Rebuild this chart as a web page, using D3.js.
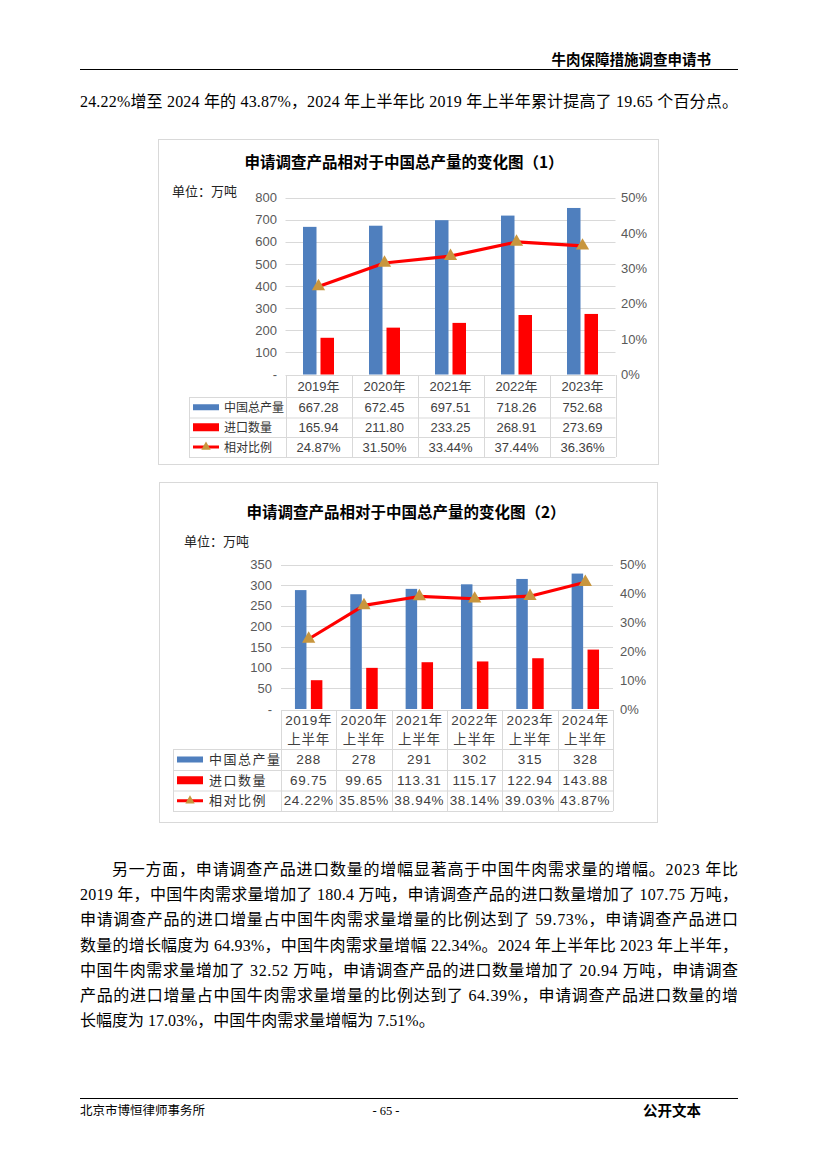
<!DOCTYPE html>
<html><head><meta charset="utf-8">
<script src="https://cdn.jsdelivr.net/npm/d3@7"></script>
<style>
html,body{margin:0;padding:0;background:#fff;}
svg{display:block;}
</style></head><body>
<svg id="page" width="827" height="1170"></svg>
<script>
// ---------- DATA ----------
const categories1 = ["2019年", "2020年", "2021年", "2022年", "2023年"];
const total1 = [667.28, 672.45, 697.51, 718.26, 752.68];
const import1 = [165.94, 211.80, 233.25, 268.91, 273.69];
const ratio1 = [24.87, 31.50, 33.44, 37.44, 36.36];
const leftTicks1 = [0, 100, 200, 300, 400, 500, 600, 700, 800];
const rightTicks1 = [0, 10, 20, 30, 40, 50];

const categories2 = ["2019年上半年", "2020年上半年", "2021年上半年", "2022年上半年", "2023年上半年", "2024年上半年"];
const total2 = [288, 278, 291, 302, 315, 328];
const import2 = [69.75, 99.65, 113.31, 115.17, 122.94, 143.88];
const ratio2 = [24.22, 35.85, 38.94, 38.14, 39.03, 43.87];
const leftTicks2 = [0, 50, 100, 150, 200, 250, 300, 350];
const rightTicks2 = [0, 10, 20, 30, 40, 50];

const seriesNames = ["中国总产量", "进口数量", "相对比例"];
const chartTitles = ["申请调查产品相对于中国总产量的变化图（1）", "申请调查产品相对于中国总产量的变化图（2）"];
const unitLabel = "单位：万吨";

const headerTitle = "牛肉保障措施调查申请书";
const introLine = "24.22%增至 2024 年的 43.87%，2024 年上半年比 2019 年上半年累计提高了 19.65 个百分点。";
const paragraphLines = [
  "另一方面，申请调查产品进口数量的增幅显著高于中国牛肉需求量的增幅。2023 年比",
  "2019 年，中国牛肉需求量增加了 180.4 万吨，申请调查产品的进口数量增加了 107.75 万吨，",
  "申请调查产品的进口增量占中国牛肉需求量增量的比例达到了 59.73%，申请调查产品进口",
  "数量的增长幅度为 64.93%，中国牛肉需求量增幅 22.34%。2024 年上半年比 2023 年上半年，",
  "中国牛肉需求量增加了 32.52 万吨，申请调查产品的进口数量增加了 20.94 万吨，申请调查",
  "产品的进口增量占中国牛肉需求量增量的比例达到了 64.39%，申请调查产品进口数量的增",
  "长幅度为 17.03%，中国牛肉需求量增幅为 7.51%。"
];
const footerLeft = "北京市博恒律师事务所";
const footerPage = "- 65 -";
const footerRight = "公开文本";

// ---------- STYLE ----------
const BLUE = "#4F7FBE", RED = "#FF0000", MARK = "#C8963E", GRID = "#D9D9D9";
const SERIF = "'Liberation Serif','Noto Sans CJK SC',serif";
const SANS = "'Liberation Sans','Noto Sans CJK SC',sans-serif";
const CJK = "'Noto Sans CJK SC',sans-serif";

const svg = d3.select("#page");

// ---------- PAGE TEXT ----------
svg.append("text").attr("x", 711).attr("y", 65).attr("text-anchor", "end")
  .attr("font-family", CJK).attr("font-weight", 700).attr("font-size", 14.5).attr("fill", "#000")
  .text(headerTitle);
svg.append("line").attr("x1", 80).attr("x2", 738).attr("y1", 69.5).attr("y2", 69.5)
  .attr("stroke", "#000").attr("stroke-width", 1.2);

svg.append("text").attr("x", 80).attr("y", 107)
  .attr("font-family", SERIF).attr("font-size", 16).attr("fill", "#000")
  .attr("textLength", 658).attr("lengthAdjust", "spacing")
  .text(introLine);

paragraphLines.forEach((t, i) => {
  const x0 = i === 0 ? 112 : 80;
  const txt = svg.append("text").attr("x", x0).attr("y", 875 + i * 25.2)
    .attr("font-family", SERIF).attr("font-size", 16).attr("fill", "#000").text(t);
  if (i < paragraphLines.length - 1) txt.attr("textLength", 738 - x0).attr("lengthAdjust", "spacing");
});

svg.append("line").attr("x1", 80).attr("x2", 738).attr("y1", 1098.5).attr("y2", 1098.5)
  .attr("stroke", "#000").attr("stroke-width", 1);
svg.append("text").attr("x", 80).attr("y", 1115)
  .attr("font-family", SERIF).attr("font-size", 12.5).attr("fill", "#000").text(footerLeft);
svg.append("text").attr("x", 386).attr("y", 1115).attr("text-anchor", "middle")
  .attr("font-family", SERIF).attr("font-size", 12.5).attr("fill", "#000").text(footerPage);
svg.append("text").attr("x", 701).attr("y", 1116).attr("text-anchor", "end")
  .attr("font-family", CJK).attr("font-weight", 700).attr("font-size", 14.5).attr("fill", "#000").text(footerRight);

// ---------- CHART ----------
function drawChart(cfg) {
  const g = svg.append("g");
  g.append("rect").attr("x", cfg.frame[0] + 0.5).attr("y", cfg.frame[1] + 0.5)
    .attr("width", cfg.frame[2] - cfg.frame[0]).attr("height", cfg.frame[3] - cfg.frame[1])
    .attr("fill", "#fff").attr("stroke", GRID).attr("stroke-width", 1);
  g.append("text").attr("x", cfg.titleX).attr("y", cfg.titleY).attr("text-anchor", "middle")
    .attr("font-family", CJK).attr("font-weight", 700).attr("font-size", 15.5).attr("fill", "#000")
    .text(cfg.title);
  g.append("text").attr("x", cfg.unitX).attr("y", cfg.unitY)
    .attr("font-family", CJK).attr("font-size", 13).attr("fill", "#222").text(unitLabel);

  const x = d3.scaleBand().domain(cfg.cats).range([cfg.left, cfg.right]).padding(0);
  const inner = d3.scaleBand().domain(["total", "import"]).range([0, x.bandwidth()])
    .paddingInner(cfg.padIn).paddingOuter(cfg.padOut);
  const y = d3.scaleLinear().domain([0, d3.max(cfg.leftTicks)]).range([cfg.y0, cfg.yTop]);
  const yr = d3.scaleLinear().domain([0, d3.max(cfg.rightTicks)]).range([cfg.y0, cfg.yTop]);

  g.append("g").selectAll("line").data(cfg.leftTicks.filter(d => d > 0)).join("line")
    .attr("x1", cfg.left).attr("x2", cfg.right)
    .attr("y1", d => Math.round(y(d)) + 0.5).attr("y2", d => Math.round(y(d)) + 0.5)
    .attr("stroke", GRID).attr("stroke-width", 1);

  const la = g.append("g").attr("transform", `translate(${cfg.left},0)`)
    .call(d3.axisLeft(y).tickValues(cfg.leftTicks).tickFormat(d => d === 0 ? "-" : d)
      .tickSize(0).tickPadding(cfg.left - cfg.labelRight));
  la.select(".domain").remove();
  la.selectAll("text").attr("font-family", SANS).attr("font-size", 13).attr("fill", "#595959");

  const ra = g.append("g").attr("transform", `translate(${cfg.right},0)`)
    .call(d3.axisRight(yr).tickValues(cfg.rightTicks).tickFormat(d => d + "%")
      .tickSize(0).tickPadding(cfg.rightLabel - cfg.right));
  ra.select(".domain").remove();
  ra.selectAll("text").attr("font-family", SANS).attr("font-size", 13).attr("fill", "#595959");

  const rows = cfg.cats.map((c, i) => ({ c, t: cfg.total[i], m: cfg.imp[i], r: cfg.ratio[i] }));
  g.append("g").selectAll("rect").data(rows).join("rect")
    .attr("x", d => x(d.c) + inner("total")).attr("width", inner.bandwidth())
    .attr("y", d => y(d.t)).attr("height", d => y(0) - y(d.t)).attr("fill", BLUE);
  g.append("g").selectAll("rect").data(rows).join("rect")
    .attr("x", d => x(d.c) + inner("import")).attr("width", inner.bandwidth())
    .attr("y", d => y(d.m)).attr("height", d => y(0) - y(d.m)).attr("fill", RED);

  const line = d3.line().x(d => x(d.c) + x.bandwidth() / 2).y(d => yr(d.r));
  g.append("path").datum(rows).attr("d", line).attr("fill", "none")
    .attr("stroke", RED).attr("stroke-width", 3.2).attr("stroke-linejoin", "round");
  const tri = d3.symbol().type(d3.symbolTriangle).size(76);
  g.append("g").selectAll("path").data(rows).join("path")
    .attr("transform", d => `translate(${x(d.c) + x.bandwidth() / 2},${yr(d.r)})`)
    .attr("d", tri).attr("fill", MARK);

  const tb = cfg.table;
  const tg = g.append("g").attr("stroke", GRID).attr("stroke-width", 1).attr("fill", "none");
  tg.append("line").attr("x1", cfg.left).attr("x2", cfg.right).attr("y1", tb[0] + 0.5).attr("y2", tb[0] + 0.5);
  [tb[1], tb[2], tb[3], tb[4]].forEach(yy =>
    tg.append("line").attr("x1", cfg.labelLeft).attr("x2", cfg.right).attr("y1", yy + 0.5).attr("y2", yy + 0.5));
  tg.append("line").attr("x1", cfg.labelLeft + 0.5).attr("x2", cfg.labelLeft + 0.5).attr("y1", tb[1]).attr("y2", tb[4]);
  const bounds = cfg.cats.map(c => x(c)).concat([cfg.right]);
  tg.selectAll("line.v").data(bounds).join("line").attr("class", "v")
    .attr("x1", d => Math.round(d) + 0.5).attr("x2", d => Math.round(d) + 0.5)
    .attr("y1", tb[0]).attr("y2", tb[4]);

  const tt = g.append("g").attr("font-family", SANS).attr("font-size", cfg.tFont)
    .attr("fill", "#404040").attr("text-anchor", "middle").attr("letter-spacing", cfg.tSpacing);
  rows.forEach(d => {
    const cx = x(d.c) + x.bandwidth() / 2;
    const parts = cfg.twoLine ? [d.c.slice(0, 5), d.c.slice(5)] : [d.c];
    const hc = (tb[0] + tb[1]) / 2;
    parts.forEach((p, k) => {
      const yy = parts.length === 1 ? hc + 4.5 : hc - 9.5 + k * 19 + 4.5;
      tt.append("text").attr("x", cx).attr("y", yy).text(p);
    });
    const vals = [cfg.fmtTotal(d.t), d3.format(".2f")(d.m), d3.format(".2f")(d.r) + "%"];
    vals.forEach((v, k) => {
      const cy = (tb[k + 1] + tb[k + 2]) / 2;
      tt.append("text").attr("x", cx).attr("y", cy + 4.5).text(v);
    });
  });

  const lg = g.append("g");
  seriesNames.forEach((s, k) => {
    const cy = (tb[k + 1] + tb[k + 2]) / 2;
    if (k < 2) {
      lg.append("rect").attr("x", cfg.swX).attr("width", cfg.swW)
        .attr("y", cy - (k === 0 ? 3 : 4)).attr("height", k === 0 ? 6 : 8)
        .attr("fill", k === 0 ? BLUE : RED);
    } else {
      lg.append("line").attr("x1", cfg.swX).attr("x2", cfg.swX + cfg.swW)
        .attr("y1", cy).attr("y2", cy).attr("stroke", RED).attr("stroke-width", 3);
      lg.append("path").attr("transform", `translate(${cfg.swX + cfg.swW / 2},${cy})`)
        .attr("d", d3.symbol().type(d3.symbolTriangle).size(38)).attr("fill", MARK);
    }
    lg.append("text").attr("x", cfg.labX).attr("y", cy + 4.5)
      .attr("font-family", CJK).attr("font-size", cfg.labFont).attr("letter-spacing", cfg.labSpacing)
      .attr("fill", "#333").text(s);
  });
}

drawChart({
  frame: [158, 139, 658, 464],
  title: chartTitles[0], titleX: 404, titleY: 168,
  unitX: 172, unitY: 195.5,
  cats: categories1, total: total1, imp: import1, ratio: ratio1,
  leftTicks: leftTicks1, rightTicks: rightTicks1,
  left: 285.5, right: 615.5, y0: 374.5, yTop: 197.5,
  labelRight: 277, rightLabel: 621,
  padIn: 0.2286, padOut: 1.0,
  table: [375, 397, 417.5, 437, 457],
  labelLeft: 189, swX: 193, swW: 26, labX: 224, labFont: 12, labSpacing: 0,
  tFont: 13, tSpacing: 0, twoLine: false,
  fmtTotal: d3.format(".2f")
});

drawChart({
  frame: [159, 482, 657, 822],
  title: chartTitles[1], titleX: 406, titleY: 518,
  unitX: 184, unitY: 546,
  cats: categories2, total: total2, imp: import2, ratio: ratio2,
  leftTicks: leftTicks2, rightTicks: rightTicks2,
  left: 281, right: 613, y0: 709, yTop: 564.5,
  labelRight: 272, rightLabel: 620,
  padIn: 0.277, padOut: 0.877,
  table: [710, 749, 770, 790.5, 811],
  labelLeft: 173, swX: 177, swW: 26, labX: 209, labFont: 13, labSpacing: 1.5,
  tFont: 13.5, tSpacing: 0.7, twoLine: true,
  fmtTotal: d3.format("d")
});
</script>
</body></html>
